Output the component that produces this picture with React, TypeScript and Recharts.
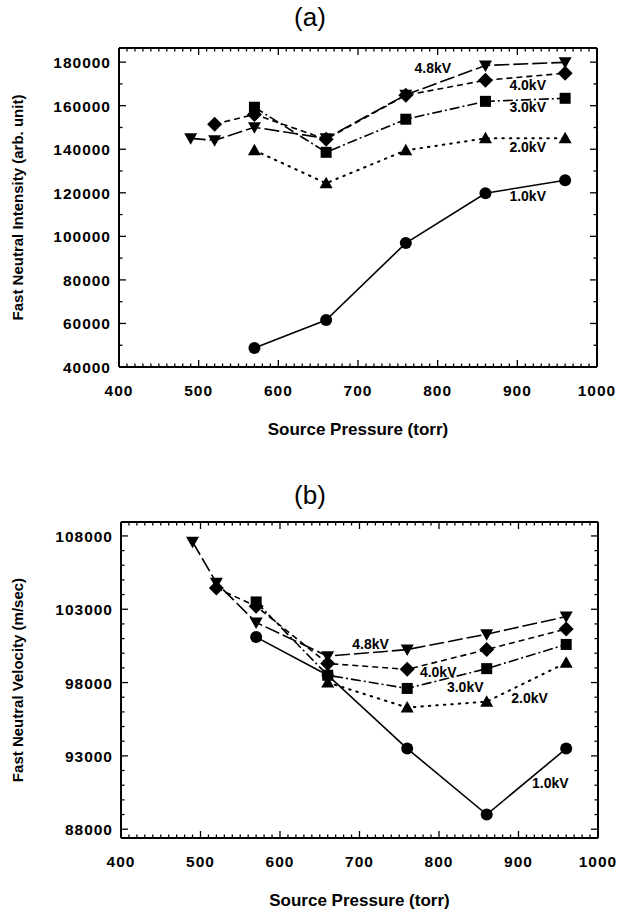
import React from 'react';
import { LineChart, Line, XAxis, YAxis, ReferenceDot } from 'recharts';

const FONT = '"Liberation Sans", Arial, Helvetica, sans-serif';

// ---------- shared x axis ----------
const xMajorTicks = [400, 500, 600, 700, 800, 900, 1000];
const xMinorStep = 10;

// ---------- panel (a): Fast Neutral Intensity ----------
const aYMajorTicks = [40000, 60000, 80000, 100000, 120000, 140000, 160000, 180000];
const aYMinorStep = 10000;

const a48x = [490, 520, 570, 660, 760, 860, 960];
const a48y = [145000, 144100, 150100, 145000, 165000, 178500, 179900];
const a40x = [520, 570, 660, 760, 860, 960];
const a40y = [151500, 156000, 144600, 164800, 171700, 174900];
const a30x = [570, 660, 760, 860, 960];
const a30y = [159300, 138600, 153800, 162000, 163400];
const a20x = [570, 660, 760, 860, 960];
const a20y = [139500, 124400, 139500, 145000, 145000];
const a10x = [570, 660, 760, 860, 960];
const a10y = [48700, 61600, 96900, 119800, 125800];

// annotation anchors (data coordinates)
const aLabelNames = ['4.8kV', '4.0kV', '3.0kV', '2.0kV', '1.0kV'];
const aLabelX = [794, 913, 913, 913, 913];
const aLabelY = [177150, 169400, 159300, 140900, 118400];

// ---------- panel (b): Fast Neutral Velocity ----------
const bYMajorTicks = [88000, 93000, 98000, 103000, 108000];
const bYMinorStep = 1000;

const b48x = [490, 520, 570, 660, 760, 860, 960];
const b48y = [107600, 104800, 102100, 99800, 100250, 101300, 102500];
const b40x = [520, 570, 660, 760, 860, 960];
const b40y = [104450, 103200, 99300, 98900, 100250, 101650];
const b30x = [570, 660, 760, 860, 960];
const b30y = [103500, 98500, 97600, 98950, 100600];
const b20x = [660, 760, 860, 960];
const b20y = [98000, 96300, 96700, 99350];
const b10x = [570, 660, 760, 860, 960];
const b10y = [101100, 98500, 93500, 89000, 93500];

const bLabelNames = ['4.8kV', '4.0kV', '3.0kV', '2.0kV', '1.0kV'];
const bLabelX = [714, 799, 833, 914, 940];
const bLabelY = [100600, 98750, 97730, 96980, 91170];

// ---------- styles per series ----------
const seriesStyle = [
  { shape: 'down', dash: '15 4', width: 1.6 },
  { shape: 'diamond', dash: '6 4', width: 1.6 },
  { shape: 'square', dash: '10 3 2 3', width: 1.6 },
  { shape: 'up', dash: '1.5 6', width: 2 },
  { shape: 'circle', dash: undefined, width: 1.6 },
];

function toPoints(xs: number[], ys: number[]) {
  return xs.map((x, i) => ({ x, y: ys[i] }));
}

function minorTicks(lo: number, hi: number, step: number) {
  const out: number[] = [];
  for (let v = lo; v <= hi + 1e-9; v += step) out.push(v);
  return out;
}

function Marker(props: any) {
  const { cx, cy, shape } = props;
  if (cx == null || cy == null) return null;
  switch (shape) {
    case 'circle':
      return <circle cx={cx} cy={cy} r={6} fill="#000" />;
    case 'square':
      return <rect x={cx - 5.5} y={cy - 5.5} width={11} height={11} fill="#000" />;
    case 'diamond':
      return (
        <polygon
          points={`${cx},${cy - 7.5} ${cx + 7.5},${cy} ${cx},${cy + 7.5} ${cx - 7.5},${cy}`}
          fill="#000"
        />
      );
    case 'up':
      return (
        <polygon points={`${cx},${cy - 6.5} ${cx + 6.5},${cy + 5} ${cx - 6.5},${cy + 5}`} fill="#000" />
      );
    case 'down':
      return (
        <polygon points={`${cx - 6.5},${cy - 5} ${cx + 6.5},${cy - 5} ${cx},${cy + 6.5}`} fill="#000" />
      );
    default:
      return null;
  }
}

const tickTextStyle = {
  fontFamily: FONT,
  fontSize: 15.5,
  fontWeight: 700,
  letterSpacing: 1,
};

function AxisTick(props: any) {
  const { x, y, payload, side, majors } = props;
  const v = payload.value;
  const major = majors.includes(v);
  const len = major ? 7 : 3.5;
  let line: any = null;
  let label: any = null;
  if (side === 'bottom') {
    line = <line x1={x} y1={y} x2={x} y2={y - len} stroke="#000" strokeWidth={1.3} />;
    if (major)
      label = (
        <text x={x} y={y + 29} textAnchor="middle" fill="#000" style={tickTextStyle}>
          {String(v)}
        </text>
      );
  } else if (side === 'top') {
    line = <line x1={x} y1={y} x2={x} y2={y + len} stroke="#000" strokeWidth={1.3} />;
  } else if (side === 'left') {
    line = <line x1={x} y1={y} x2={x + len} y2={y} stroke="#000" strokeWidth={1.3} />;
    if (major)
      label = (
        <text x={x - 8} y={y + 6} textAnchor="end" fill="#000" style={tickTextStyle}>
          {String(v)}
        </text>
      );
  } else {
    line = <line x1={x} y1={y} x2={x - len} y2={y} stroke="#000" strokeWidth={1.3} />;
  }
  return (
    <g>
      {line}
      {label}
    </g>
  );
}

function Panel(props: any) {
  const {
    width,
    height,
    margin,
    leftW,
    bottomH,
    yDomain,
    yMajor,
    yMinorStep,
    series,
    labelNames,
    labelX,
    labelY,
    yTitle,
  } = props;
  const xTicks = minorTicks(400, 1000, xMinorStep);
  const yTicks = minorTicks(yMajor[0], yMajor[yMajor.length - 1], yMinorStep);
  const axisLine = { stroke: '#000', strokeWidth: 2 };
  const plotTop = margin.top + 1;
  const plotH = height - plotTop - bottomH;
  const plotLeft = leftW;
  const plotW = width - leftW - margin.right - 1;
  return (
    <LineChart width={width} height={height} margin={margin}>
      <XAxis
        xAxisId="x"
        dataKey="x"
        type="number"
        orientation="bottom"
        domain={[400, 1000]}
        allowDataOverflow
        ticks={xTicks}
        interval={0}
        tickSize={0}
        tickMargin={0}
        tickLine={false}
        axisLine={axisLine}
        height={bottomH}
        tick={<AxisTick side="bottom" majors={xMajorTicks} />}
        label={{
          content: () => (
            <text
              x={plotLeft + plotW / 2}
              y={plotTop + plotH + 68}
              textAnchor="middle"
              fill="#000"
              style={{ fontFamily: FONT, fontSize: 17, fontWeight: 700 }}
            >
              Source Pressure (torr)
            </text>
          ),
        }}
      />
      <XAxis
        xAxisId="t"
        dataKey="x"
        type="number"
        orientation="top"
        domain={[400, 1000]}
        allowDataOverflow
        ticks={xTicks}
        interval={0}
        tickSize={0}
        tickMargin={0}
        tickLine={false}
        axisLine={axisLine}
        height={1}
        tick={<AxisTick side="top" majors={xMajorTicks} />}
      />
      <YAxis
        yAxisId="y"
        type="number"
        orientation="left"
        domain={yDomain}
        allowDataOverflow
        ticks={yTicks}
        interval={0}
        tickSize={0}
        tickMargin={0}
        tickLine={false}
        axisLine={axisLine}
        width={leftW}
        tick={<AxisTick side="left" majors={yMajor} />}
        label={{
          content: () => {
            const cx = 23;
            const cy = plotTop + plotH / 2;
            return (
              <text
                x={cx}
                y={cy}
                transform={`rotate(-90 ${cx} ${cy})`}
                textAnchor="middle"
                fill="#000"
                style={{ fontFamily: FONT, fontSize: 15, fontWeight: 700 }}
              >
                {yTitle}
              </text>
            );
          },
        }}
      />
      <YAxis
        yAxisId="r"
        type="number"
        orientation="right"
        domain={yDomain}
        allowDataOverflow
        ticks={yTicks}
        interval={0}
        tickSize={0}
        tickMargin={0}
        tickLine={false}
        axisLine={axisLine}
        width={1}
        tick={<AxisTick side="right" majors={yMajor} />}
      />
      {series.map((s: any, i: number) => {
        const st = seriesStyle[i];
        return (
          <Line
            key={i}
            xAxisId="x"
            yAxisId="y"
            data={toPoints(s.xs, s.ys)}
            dataKey="y"
            type="linear"
            stroke="#000"
            strokeWidth={st.width}
            strokeDasharray={st.dash}
            strokeLinecap={st.shape === 'up' ? 'round' : 'butt'}
            dot={(p: any) => <Marker key={`m${i}-${p.index}`} cx={p.cx} cy={p.cy} shape={st.shape} />}
            activeDot={false}
            isAnimationActive={false}
          />
        );
      })}
      {labelNames.map((n: string, i: number) => (
        <ReferenceDot
          key={`l${i}`}
          xAxisId="x"
          yAxisId="y"
          x={labelX[i]}
          y={labelY[i]}
          r={0}
          shape={(p: any) => (
            <text
              x={p.cx}
              y={p.cy + 5}
              textAnchor="middle"
              fill="#000"
              style={{ fontFamily: FONT, fontSize: 14, fontWeight: 700 }}
            >
              {n}
            </text>
          )}
        />
      ))}
    </LineChart>
  );
}

const titleStyle: any = {
  position: 'absolute',
  width: 100,
  textAlign: 'center',
  fontFamily: FONT,
  fontSize: 26,
  lineHeight: '30px',
  color: '#000',
};

export default function App() {
  const aSeries = [
    { xs: a48x, ys: a48y },
    { xs: a40x, ys: a40y },
    { xs: a30x, ys: a30y },
    { xs: a20x, ys: a20y },
    { xs: a10x, ys: a10y },
  ];
  const bSeries = [
    { xs: b48x, ys: b48y },
    { xs: b40x, ys: b40y },
    { xs: b30x, ys: b30y },
    { xs: b20x, ys: b20y },
    { xs: b10x, ys: b10y },
  ];
  return (
    <div
      style={{
        position: 'absolute',
        left: 0,
        top: 0,
        width: 619,
        height: 915,
        background: '#fff',
        overflow: 'hidden',
      }}
    >
      <div style={{ ...titleStyle, left: 260, top: 2 }}>(a)</div>
      <div style={{ ...titleStyle, left: 260, top: 480 }}>(b)</div>
      <div style={{ position: 'absolute', left: 0, top: 0 }}>
        <Panel
          width={619}
          height={440}
          margin={{ top: 47, right: 21, bottom: 0, left: 0 }}
          leftW={119}
          bottomH={73}
          yDomain={[40000, 186500]}
          yMajor={aYMajorTicks}
          yMinorStep={aYMinorStep}
          series={aSeries}
          labelNames={aLabelNames}
          labelX={aLabelX}
          labelY={aLabelY}
          yTitle="Fast Neutral Intensity (arb. unit)"
        />
      </div>
      <div style={{ position: 'absolute', left: 0, top: 460 }}>
        <Panel
          width={619}
          height={455}
          margin={{ top: 61, right: 20, bottom: 0, left: 0 }}
          leftW={121}
          bottomH={77}
          yDomain={[87400, 108950]}
          yMajor={bYMajorTicks}
          yMinorStep={bYMinorStep}
          series={bSeries}
          labelNames={bLabelNames}
          labelX={bLabelX}
          labelY={bLabelY}
          yTitle="Fast Neutral Velocity (m/sec)"
        />
      </div>
    </div>
  );
}
